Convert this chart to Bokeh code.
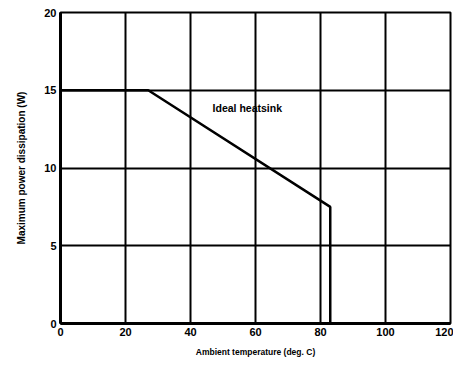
from bokeh.plotting import figure
from bokeh.models import Range1d, FixedTicker, Label
from bokeh.embed import file_html
from bokeh.resources import INLINE

# data
temp = [0, 27, 83, 83]
power = [15, 15, 7.5, 0]
x_ticks = [0, 20, 40, 60, 80, 100, 120]
y_ticks = [0, 5, 10, 15, 20]

p = figure(width=453, height=359, output_backend="svg", toolbar_location=None,
           x_range=Range1d(0, 120), y_range=Range1d(0, 20),
           min_border_left=60, min_border_right=3, min_border_top=12, min_border_bottom=35)
p.background_fill_color = "white"
p.border_fill_color = "white"
p.outline_line_color = "black"
p.outline_line_width = 2

p.line(temp, power, line_color="black", line_width=2.5)

for ax in (p.xaxis[0], p.yaxis[0]):
    ax.axis_line_width = 3
    ax.axis_line_color = "black"
    ax.major_tick_out = 0
    ax.major_tick_in = 0
    ax.minor_tick_out = 0
    ax.minor_tick_in = 0
    ax.major_label_text_font = "Liberation Sans"
    ax.major_label_text_font_style = "bold"
    ax.major_label_text_font_size = "11px"
    ax.major_label_text_color = "black"
    ax.axis_label_text_font = "Liberation Sans"
    ax.axis_label_text_font_style = "bold"
    ax.axis_label_text_color = "black"

p.xaxis.axis_label_text_font_size = "8.5px"
p.yaxis.axis_label_text_font_size = "10px"
p.xaxis.ticker = FixedTicker(ticks=x_ticks)
p.yaxis.ticker = FixedTicker(ticks=y_ticks)
p.xaxis.axis_label = "Ambient temperature (deg. C)"
p.yaxis.axis_label = "Maximum power dissipation (W)"
p.xaxis.major_label_standoff = 4
p.yaxis.major_label_standoff = 4
p.xaxis.axis_label_standoff = 8
p.yaxis.axis_label_standoff = 14

p.xgrid.grid_line_color = "black"
p.ygrid.grid_line_color = "black"
p.xgrid.grid_line_width = 2
p.ygrid.grid_line_width = 2

p.add_layout(Label(x=46.8, y=13.85, text="Ideal heatsink", text_font="Liberation Sans",
                   text_font_style="bold", text_font_size="10.5px", text_color="black",
                   text_baseline="middle"))

open("out.html", "w").write(file_html(p, INLINE))
